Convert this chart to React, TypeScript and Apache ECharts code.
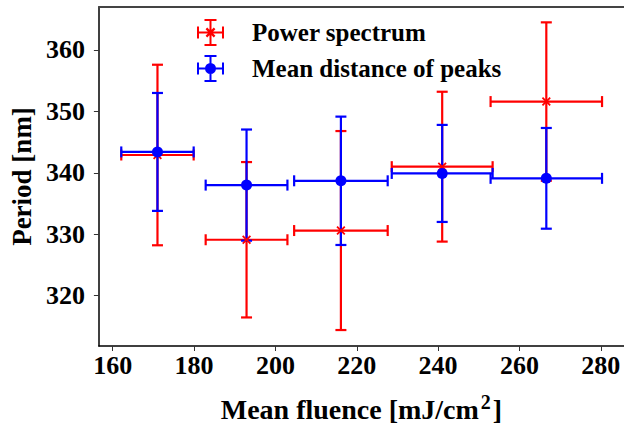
import React, { useEffect, useRef } from "react";
import * as echarts from "echarts";

const fluence = [171.0, 192.9, 216.1, 241.0, 266.6];
const fluenceErr = [8.9, 10.05, 11.5, 12.4, 13.7];
const powerSpectrum = [342.9, 329.1, 330.6, 341.0, 351.6];
const powerSpectrumErr = [14.7, 12.65, 16.2, 12.2, 12.9];
const meanDistance = [343.4, 338.0, 338.7, 339.9, 339.1];
const meanDistanceErr = [9.6, 9.05, 10.45, 7.9, 8.2];
const xTicks = [160, 180, 200, 220, 240, 260, 280];
const yTicks = [320, 330, 340, 350, 360];
const seriesNames = ["Power spectrum", "Mean distance of peaks"];

const FONT = "'Liberation Serif', 'Times New Roman', serif";
const RED = "#ff0000";
const BLUE = "#0000ff";

const barsPath =
  "M12.5 0 H14.5 V27 H12.5 Z M7.5 0 H19.5 V2 H7.5 Z M7.5 25 H19.5 V27 H7.5 Z " +
  "M0 12.5 H27 V14.5 H0 Z M0 7.5 H2 V19.5 H0 Z M25 7.5 H27 V19.5 H25 Z ";
const redIcon =
  "path://" + barsPath +
  "M8.6 10.2 L10.2 8.6 L18.4 16.8 L16.8 18.4 Z M16.8 8.6 L18.4 10.2 L10.2 18.4 L8.6 16.8 Z";
const blueIcon =
  "path://" + barsPath +
  "M13.5 8 A5.5 5.5 0 1 1 13.5 19 A5.5 5.5 0 1 1 13.5 8 Z";
const xMarker =
  "path://M0 1.4 L1.4 0 L5 3.6 L8.6 0 L10 1.4 L6.4 5 L10 8.6 L8.6 10 L5 6.4 L1.4 10 L0 8.6 L3.6 5 Z";

function errorBars(color: string) {
  return (_params: any, api: any) => {
    const x = api.value(0);
    const y = api.value(1);
    const xe = api.value(2);
    const ye = api.value(3);
    const top = api.coord([x, y + ye]);
    const bot = api.coord([x, y - ye]);
    const left = api.coord([x - xe, y]);
    const right = api.coord([x + xe, y]);
    const cap = 5.5;
    const style = { stroke: color, lineWidth: 2.2, fill: null, opacity: 1 };
    const ln = (x1: number, y1: number, x2: number, y2: number) => ({
      type: "line",
      shape: { x1, y1, x2, y2 },
      style,
    });
    return {
      type: "group",
      children: [
        ln(top[0], top[1], bot[0], bot[1]),
        ln(top[0] - cap, top[1], top[0] + cap, top[1]),
        ln(bot[0] - cap, bot[1], bot[0] + cap, bot[1]),
        ln(left[0], left[1], right[0], right[1]),
        ln(left[0], left[1] - cap, left[0], left[1] + cap),
        ln(right[0], right[1] - cap, right[0], right[1] + cap),
      ],
    };
  };
}

export default function App() {
  const ref = useRef<HTMLDivElement>(null);
  useEffect(() => {
    if (!ref.current) return;
    const chart = echarts.init(ref.current, undefined, { renderer: "svg" });
    const psData = fluence.map((x, i) => [x, powerSpectrum[i], fluenceErr[i], powerSpectrumErr[i]]);
    const mdData = fluence.map((x, i) => [x, meanDistance[i], fluenceErr[i], meanDistanceErr[i]]);
    const labelStyle = { fontFamily: FONT, fontWeight: "bold" as const, color: "#000" };
    chart.setOption({
      animation: false,
      backgroundColor: "#ffffff",
      grid: { left: 96, right: 0, top: 7, bottom: 77.3, containLabel: false },
      legend: {
        orient: "vertical",
        left: 192,
        top: 14,
        itemWidth: 27,
        itemHeight: 27,
        itemGap: 9,
        selectedMode: false,
        data: [
          { name: seriesNames[0], icon: redIcon },
          { name: seriesNames[1], icon: blueIcon },
        ],
        itemStyle: { opacity: 1 },
        textStyle: { ...labelStyle, fontSize: 25, padding: [0, 0, 0, 23] },
      },
      xAxis: [
        {
          type: "value",
          min: 156.6,
          max: 285.7,
          position: "bottom",
          name: "{a|Mean fluence [mJ/cm}{s|2}{a|]}",
          nameLocation: "middle",
          nameGap: 46,
          nameTextStyle: {
            rich: {
              a: { ...labelStyle, fontSize: 28 },
              s: { ...labelStyle, fontSize: 20, verticalAlign: "top", padding: [0, 2, 14, 2] },
            },
          },
          axisLine: { show: true, onZero: false, lineStyle: { color: "#000", width: 1.5 } },
          axisTick: { show: true, length: 5, customValues: xTicks, lineStyle: { color: "#333", width: 1 } },
          axisLabel: { ...labelStyle, fontSize: 26, margin: 6, customValues: xTicks },
          splitLine: { show: false },
        },
        {
          type: "value",
          min: 156.6,
          max: 285.7,
          position: "top",
          axisLine: { show: true, onZero: false, lineStyle: { color: "#444", width: 2 } },
          axisTick: { show: false },
          axisLabel: { show: false },
          splitLine: { show: false },
        },
      ],
      yAxis: {
        type: "value",
        min: 311.8,
        max: 367.0,
        name: "Period [nm]",
        nameLocation: "middle",
        nameGap: 62,
        nameTextStyle: { ...labelStyle, fontSize: 27 },
        axisLine: { show: true, onZero: false, lineStyle: { color: "#000", width: 1.5 } },
        axisTick: { show: true, length: 5, customValues: yTicks, lineStyle: { color: "#333", width: 1 } },
        axisLabel: { ...labelStyle, fontSize: 26, margin: 14, customValues: yTicks },
        splitLine: { show: false },
      },
      series: [
        {
          name: "ps-err",
          type: "custom",
          renderItem: errorBars(RED),
          data: psData,
          encode: { x: 0, y: 1 },
          z: 2,
          silent: true,
        },
        {
          name: "md-err",
          type: "custom",
          renderItem: errorBars(BLUE),
          data: mdData,
          encode: { x: 0, y: 1 },
          z: 3,
          silent: true,
        },
        {
          name: seriesNames[0],
          type: "scatter",
          data: fluence.map((x, i) => [x, powerSpectrum[i]]),
          symbol: xMarker,
          symbolSize: 9,
          itemStyle: { color: RED, opacity: 1 },
          z: 4,
        },
        {
          name: seriesNames[1],
          type: "scatter",
          data: fluence.map((x, i) => [x, meanDistance[i]]),
          symbol: "circle",
          symbolSize: 11,
          itemStyle: { color: BLUE, opacity: 1 },
          z: 5,
        },
      ],
    });
    return () => chart.dispose();
  }, []);
  return (
    <div
      ref={ref}
      style={{ position: "fixed", left: 0, top: 0, width: 624, height: 428, background: "#fff" }}
    />
  );
}
